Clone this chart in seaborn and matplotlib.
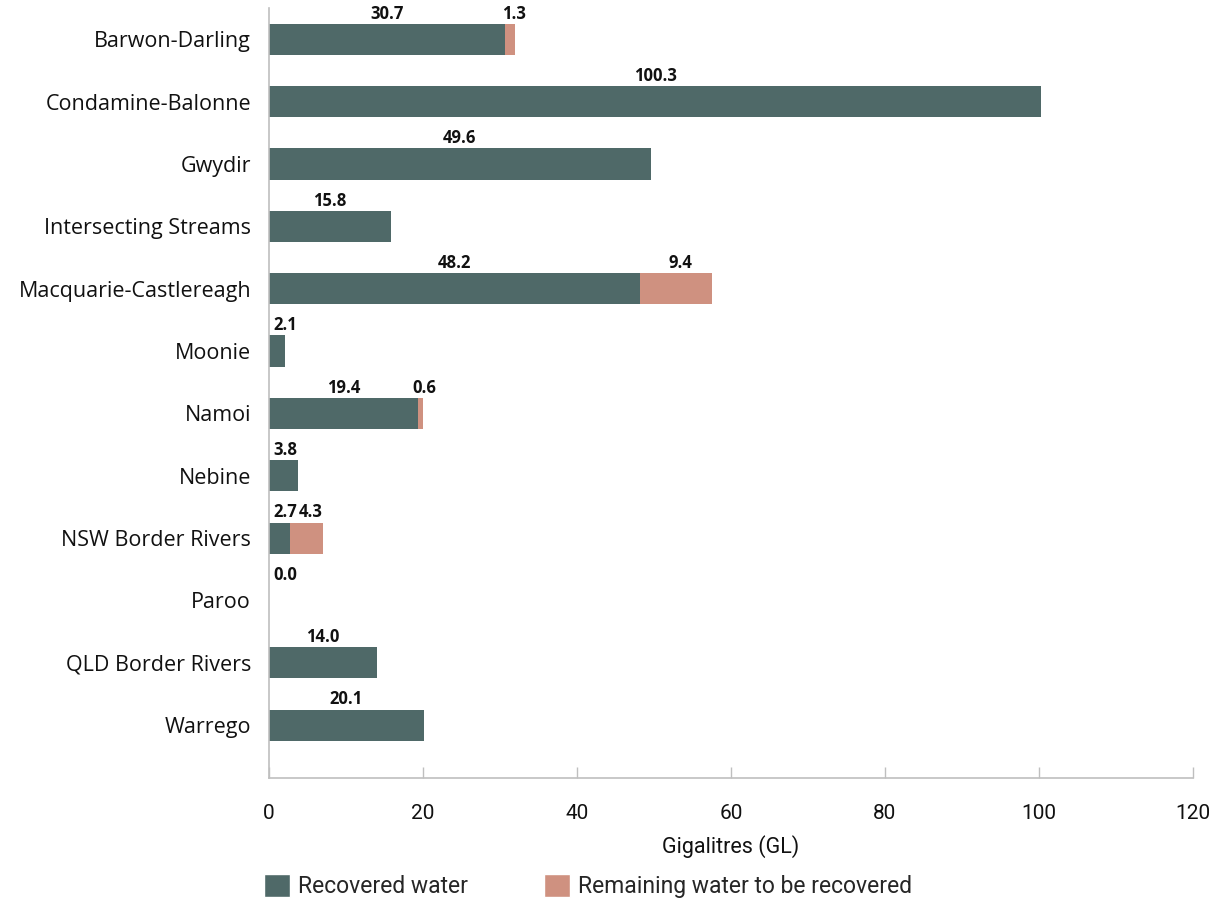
import matplotlib
matplotlib.use("Agg")
import matplotlib.pyplot as plt
import seaborn as sns
import pandas as pd
from matplotlib.patches import Patch

regions = ["Barwon-Darling", "Condamine-Balonne", "Gwydir", "Intersecting Streams",
           "Macquarie-Castlereagh", "Moonie", "Namoi", "Nebine", "NSW Border Rivers",
           "Paroo", "QLD Border Rivers", "Warrego"]
recovered = [30.7, 100.3, 49.6, 15.8, 48.2, 2.1, 19.4, 3.8, 2.7, 0.0, 14.0, 20.1]
remaining = [1.3, 0.0, 0.0, 0.0, 9.4, 0.0, 0.6, 0.0, 4.3, 0.0, 0.0, 0.0]
x_ticks = [0, 20, 40, 60, 80, 100, 120]

DARK = "#4F6968"
PINK = "#CF9180"
TXT = "#111111"

df = pd.DataFrame({"region": regions, "recovered": recovered, "remaining": remaining})
df["total"] = df["recovered"] + df["remaining"]

sns.set_theme(style="white")
plt.rcParams["font.family"] = ["Open Sans", "DejaVu Sans"]

fig = plt.figure(figsize=(12.12, 9.09), dpi=100)
ax = fig.add_axes([0.222, 0.144, 0.762, 0.847])

sns.barplot(data=df, y="region", x="total", orient="h", color=PINK, width=0.5,
            saturation=1, ax=ax, linewidth=0)
sns.barplot(data=df, y="region", x="recovered", orient="h", color=DARK, width=0.5,
            saturation=1, ax=ax, linewidth=0)

ax.set_xlim(0, 120)
ax.set_ylim(11.85, -0.5)
ax.set_xticks(x_ticks)
ax.set_xticklabels([str(t) for t in x_ticks], fontsize=15, family="Roboto", color=TXT)
ax.tick_params(axis="x", bottom=True, direction="in", length=8, width=1,
               color="#BFBFBF", pad=19)
ax.tick_params(axis="y", left=False, length=0, pad=13, labelsize=15.5, labelcolor=TXT)
ax.set_ylabel("")
ax.set_xlabel("Gigalitres (GL)", fontsize=15.5, family="Roboto", labelpad=8, color=TXT)

for s in ["top", "right"]:
    ax.spines[s].set_visible(False)
for s in ["left", "bottom"]:
    ax.spines[s].set_color("#BFBFBF")
    ax.spines[s].set_linewidth(1.2)

for i, (rec, rem) in enumerate(zip(recovered, remaining)):
    xc = max(rec / 2, 2.1)
    ax.text(xc, i - 0.27, f"{rec:.1f}", ha="center", va="bottom", fontsize=12,
            fontweight="bold", color=TXT)
    if rem > 0:
        ax.text(rec + rem / 2 + 0.5, i - 0.27, f"{rem:.1f}", ha="center", va="bottom",
                fontsize=12, fontweight="bold", color=TXT)

handles = [Patch(facecolor=DARK, label="Recovered water"),
           Patch(facecolor=PINK, label="Remaining water to be recovered")]
fig.legend(handles=handles, loc="lower left", bbox_to_anchor=(0.2005, -0.011), ncol=2,
           frameon=False, handlelength=1.15, handleheight=1.15,
           columnspacing=3.3, handletextpad=0.35, prop={"family": "Roboto", "size": 16.5})

fig.savefig("out.png", dpi=100)
